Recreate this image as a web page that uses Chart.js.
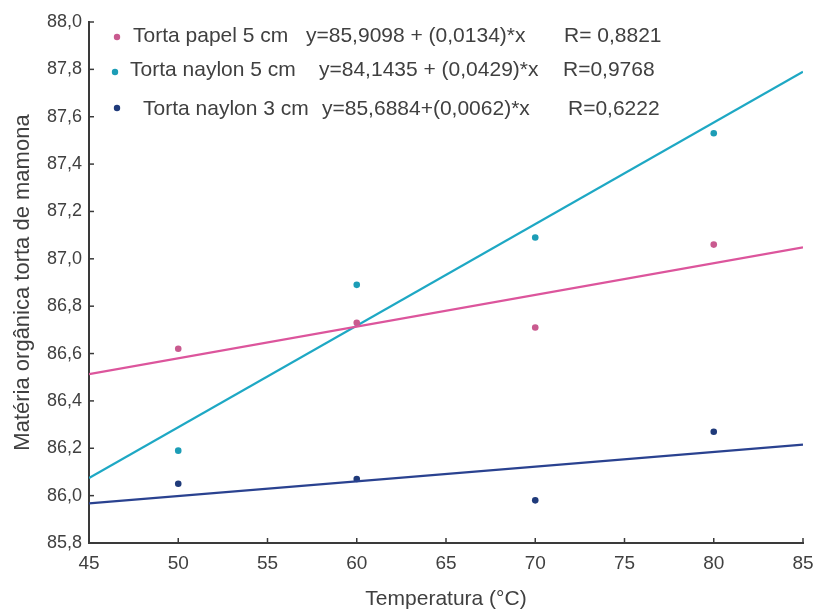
<!DOCTYPE html>
<html>
<head>
<meta charset="utf-8">
<script src="https://cdn.jsdelivr.net/npm/chart.js@4"></script>
<style>
  html, body { margin: 0; padding: 0; background: #ffffff; }
  #wrap { width: 816px; height: 612px; position: relative; }
</style>
</head>
<body>
<div id="wrap"><canvas id="c" width="816" height="612"></canvas></div>
<script>
// Temperatures (°C) and organic matter (%) of the castor cake samples
const temps = [50, 60, 70, 80];
const papel5 = [86.62, 86.73, 86.71, 87.06];
const naylon5 = [86.19, 86.89, 87.09, 87.53];
const naylon3 = [86.05, 86.07, 85.98, 86.27];

// Series names, fitted equations and correlation coefficients
const seriesNames = ['Torta papel 5 cm', 'Torta naylon 5 cm', 'Torta naylon 3 cm'];
const intercepts = [85.9098, 84.1435, 85.6884];
const slopes = [0.0134, 0.0429, 0.0062];
const eqLabels = ['y=85,9098 + (0,0134)*x', 'y=84,1435 + (0,0429)*x', 'y=85,6884+(0,0062)*x'];
const rLabels = ['R= 0,8821', 'R=0,9768', 'R=0,6222'];

// Axis range
const xRange = [45, 85];
const yRange = [85.8, 88.0];

const lineColors = ['#dc559c', '#1ea8c4', '#2a4290'];
const dotColors = ['#c95a8f', '#1c9db6', '#1f3a7a'];
const FONT = "'Liberation Sans', Arial, sans-serif";
const TEXT = '#404040';

function fitLine(i) {
  return xRange.map(x => ({ x: x, y: intercepts[i] + slopes[i] * x }));
}
function points(arr) {
  return temps.map((t, k) => ({ x: t, y: arr[k] }));
}

const seriesValues = [papel5, naylon5, naylon3];
const datasets = [];
seriesValues.forEach((vals, i) => {
  datasets.push({
    type: 'line', label: seriesNames[i] + ' ajuste', data: fitLine(i),
    borderColor: lineColors[i], borderWidth: 2.3, pointRadius: 0, fill: false, tension: 0
  });
  datasets.push({
    type: 'scatter', label: seriesNames[i], data: points(vals),
    backgroundColor: dotColors[i], borderColor: dotColors[i], pointRadius: 3.3, borderWidth: 0
  });
});

// Small inward tick marks along both axes
const inwardTicks = {
  id: 'inwardTicks',
  afterDraw(chart) {
    const { ctx, scales: { x, y } } = chart;
    ctx.save();
    ctx.strokeStyle = '#3a3a3a';
    ctx.lineWidth = 1.5;
    x.ticks.forEach(t => {
      const px = x.getPixelForValue(t.value);
      ctx.beginPath(); ctx.moveTo(px, y.bottom); ctx.lineTo(px, y.bottom - 5); ctx.stroke();
    });
    y.ticks.forEach(t => {
      const py = y.getPixelForValue(t.value);
      ctx.beginPath(); ctx.moveTo(x.left, py); ctx.lineTo(x.left + 5, py); ctx.stroke();
    });
    ctx.restore();
  }
};

// Legend block with equations, written inside the plot area
const equationLegend = {
  id: 'equationLegend',
  afterDraw(chart) {
    const ctx = chart.ctx;
    const rows = [
      { dot: [117, 37], name: 133, eq: 306, r: 564, base: 42 },
      { dot: [115, 72], name: 130, eq: 319, r: 563, base: 76 },
      { dot: [117, 108], name: 143, eq: 322, r: 568, base: 115 }
    ];
    ctx.save();
    ctx.font = '21px ' + FONT;
    ctx.textBaseline = 'alphabetic';
    rows.forEach((row, i) => {
      ctx.fillStyle = dotColors[i];
      ctx.beginPath(); ctx.arc(row.dot[0], row.dot[1], 3.2, 0, Math.PI * 2); ctx.fill();
      ctx.fillStyle = TEXT;
      ctx.fillText(seriesNames[i], row.name, row.base);
      ctx.fillText(eqLabels[i], row.eq, row.base);
      ctx.fillText(rLabels[i], row.r, row.base);
    });
    ctx.restore();
  }
};

new Chart(document.getElementById('c'), {
  data: { datasets },
  options: {
    responsive: false,
    animation: false,
    events: [],
    layout: { padding: { left: 0, right: 13, top: 22, bottom: 0 } },
    plugins: { legend: { display: false }, tooltip: { enabled: false } },
    scales: {
      x: {
        type: 'linear', min: xRange[0], max: xRange[1],
        afterFit(s) { s.height = 69; s.paddingLeft = 0; s.paddingRight = 0; },
        grid: { display: false, drawTicks: false },
        border: { display: true, color: '#3a3a3a', width: 2 },
        ticks: { stepSize: 5, padding: 9, color: TEXT, font: { family: FONT, size: 19 } },
        title: { display: true, text: 'Temperatura (°C)', color: TEXT, padding: { top: 0, bottom: 0 }, font: { family: FONT, size: 21 } }
      },
      y: {
        type: 'linear', min: yRange[0], max: yRange[1],
        afterFit(s) { s.width = 89; s.paddingTop = 0; s.paddingBottom = 0; },
        grid: { display: false, drawTicks: false },
        border: { display: true, color: '#3a3a3a', width: 2 },
        ticks: {
          stepSize: 0.2, padding: 7, color: TEXT, font: { family: FONT, size: 18 },
          callback: v => v.toFixed(1).replace('.', ',')
        },
        title: { display: true, text: 'Matéria orgânica torta de mamona', color: TEXT, padding: { top: 10, bottom: 0 }, font: { family: FONT, size: 22 } }
      }
    }
  },
  plugins: [inwardTicks, equationLegend]
});
</script>
</body>
</html>
